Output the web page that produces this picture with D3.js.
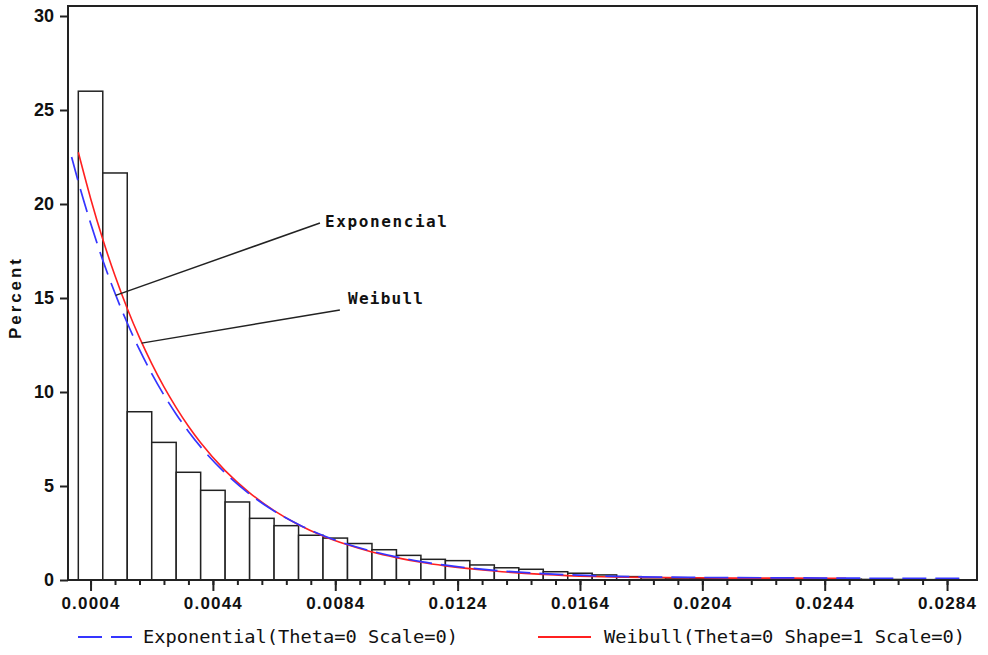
<!DOCTYPE html>
<html>
<head>
<meta charset="utf-8">
<script src="https://cdn.jsdelivr.net/npm/d3@7"></script>
<style>
  body { margin: 0; background: #fff; }
  svg { display: block; }
</style>
</head>
<body>
<div id="chart"></div>
<script>
// histogram: bin width 0.0008, first bin starts at 0
const binWidth = 0.0008;
const binStarts = d3.range(36).map(i => +(i * binWidth).toFixed(4));
const binPercent = [26.0, 21.65, 8.95, 7.32, 5.73, 4.77, 4.15, 3.28, 2.89, 2.38,
                    2.23, 1.94, 1.61, 1.31, 1.10, 1.03, 0.80, 0.65, 0.57, 0.44,
                    0.36, 0.27, 0.18, 0.12, 0.10, 0.08, 0.07, 0.06, 0.05, 0.05,
                    0.04, 0.04, 0.03, 0.03, 0.02, 0.02];

// fitted curves
const expX = [-0.00022, 0, 0.0004, 0.0008, 0.0012, 0.0016, 0.002, 0.0024, 0.0028, 0.0032,
              0.0036, 0.004, 0.0048, 0.0056, 0.0064, 0.0072, 0.008, 0.0088, 0.0096,
              0.0104, 0.0112, 0.012, 0.0136, 0.0152, 0.0168, 0.0184, 0.02, 0.0224,
              0.0248, 0.0272, 0.0288];
const expY = [22.5, 21.18, 18.99, 17.01, 15.25, 13.67, 12.25, 10.98, 9.84, 8.82,
              7.90, 7.08, 5.69, 4.57, 3.67, 2.95, 2.37, 1.90, 1.53,
              1.23, 0.98, 0.79, 0.51, 0.34, 0.23, 0.17, 0.14, 0.12,
              0.10, 0.09, 0.09];
const weibX = [0, 0.0004, 0.0008, 0.0012, 0.0016, 0.002, 0.0024, 0.0028, 0.0032, 0.0036,
               0.004, 0.0048, 0.0056, 0.0064, 0.0072, 0.008, 0.0088, 0.0096, 0.0104,
               0.0112, 0.012, 0.0136, 0.0152, 0.0168, 0.0184, 0.02, 0.0216, 0.0232, 0.0251];
const weibY = [22.75, 20.31, 18.12, 16.18, 14.44, 12.89, 11.51, 10.27, 9.17, 8.18,
               7.30, 5.82, 4.64, 3.69, 2.94, 2.34, 1.87, 1.49, 1.19,
               0.94, 0.75, 0.48, 0.30, 0.19, 0.14, 0.12, 0.10, 0.10, 0.09];

const xTickLabels = ["0.0004", "0.0044", "0.0084", "0.0124", "0.0164", "0.0204", "0.0244", "0.0284"];
const yTickLabels = ["0", "5", "10", "15", "20", "25", "30"];
const legendLabels = ["Exponential(Theta=0 Scale=0)", "Weibull(Theta=0 Shape=1 Scale=0)"];
const noteLabels = ["Exponencial", "Weibull"];

const width = 988, height = 655;
const frame = { left: 68, right: 977, top: 6, bottom: 580 };

const svg = d3.select("#chart").append("svg")
    .attr("width", width)
    .attr("height", height);

const x = d3.scaleLinear().domain([-0.000337, 0.029379]).range([frame.left, frame.right]);
const y = d3.scaleLinear().domain([0, 30]).range([frame.bottom, 16]);

// bars
svg.append("g").selectAll("rect")
    .data(binStarts.map((s, i) => ({ s, v: binPercent[i] })))
    .join("rect")
    .attr("x", d => x(d.s))
    .attr("y", d => y(d.v))
    .attr("width", d => x(d.s + binWidth) - x(d.s))
    .attr("height", d => y(0) - y(d.v))
    .attr("fill", "#fff")
    .attr("stroke", "#222")
    .attr("stroke-width", 1.5);

// curves
const line = d3.line()
    .x(d => x(d[0]))
    .y(d => y(d[1]))
    .curve(d3.curveMonotoneX);

svg.append("path")
    .datum(weibX.map((v, i) => [v, weibY[i]]))
    .attr("d", line)
    .attr("fill", "none")
    .attr("stroke", "#ff2020")
    .attr("stroke-width", 1.6);

svg.append("path")
    .datum(expX.map((v, i) => [v, expY[i]]))
    .attr("d", line)
    .attr("fill", "none")
    .attr("stroke", "#3535ff")
    .attr("stroke-width", 1.7)
    .attr("stroke-dasharray", "24,9");

// frame
svg.append("rect")
    .attr("x", frame.left).attr("y", frame.top)
    .attr("width", frame.right - frame.left).attr("height", frame.bottom - frame.top)
    .attr("fill", "none")
    .attr("stroke", "#222")
    .attr("stroke-width", 2);

// y axis
const yAxis = svg.append("g")
    .attr("transform", `translate(${frame.left},0)`)
    .call(d3.axisLeft(y).tickValues(yTickLabels.map(Number)).tickSize(8).tickPadding(6));
yAxis.select(".domain").remove();
yAxis.selectAll(".tick line").attr("stroke", "#222").attr("stroke-width", 2);
yAxis.selectAll(".tick text")
    .attr("fill", "#111")
    .style("font-family", "'Liberation Sans', Arial, sans-serif")
    .style("font-size", "18px")
    .style("font-weight", "bold");

// x axis: minor ticks every bin center, labels every 0.004
const minorTicks = binStarts.map(s => s + binWidth / 2);
const xMinor = svg.append("g")
    .attr("transform", `translate(0,${frame.bottom})`)
    .call(d3.axisBottom(x).tickValues(minorTicks).tickSize(5).tickFormat(""));
xMinor.select(".domain").remove();
xMinor.selectAll(".tick line").attr("stroke", "#222").attr("stroke-width", 2);

const xAxis = svg.append("g")
    .attr("transform", `translate(0,${frame.bottom})`)
    .call(d3.axisBottom(x).tickValues(xTickLabels.map(Number)).tickSize(11).tickPadding(6)
        .tickFormat((d, i) => xTickLabels[i]));
xAxis.select(".domain").remove();
xAxis.selectAll(".tick line").attr("stroke", "#222").attr("stroke-width", 2);
xAxis.selectAll(".tick text")
    .attr("fill", "#111")
    .style("font-family", "'Liberation Sans', Arial, sans-serif")
    .style("font-size", "17px")
    .style("font-weight", "bold")
    .style("letter-spacing", "1.2px");

// y label
svg.append("text")
    .attr("transform", "translate(21,299) rotate(-90)")
    .attr("text-anchor", "middle")
    .attr("textLength", 80)
    .attr("lengthAdjust", "spacing")
    .style("font-family", "'Liberation Sans', Arial, sans-serif")
    .style("font-size", "17px")
    .style("font-weight", "bold")
    .attr("fill", "#111")
    .text("Percent");

// annotations
const notes = [
    { label: noteLabels[0], from: [0.00122, 15.14], to: [0.00790, 18.99], tx: 325, ty: 227, len: 122 },
    { label: noteLabels[1], from: [0.00207, 12.6], to: [0.00855, 14.36], tx: 348, ty: 304, len: 75 }
];
notes.forEach(n => {
    svg.append("line")
        .attr("x1", x(n.from[0])).attr("y1", y(n.from[1]))
        .attr("x2", x(n.to[0])).attr("y2", y(n.to[1]))
        .attr("stroke", "#222")
        .attr("stroke-width", 1.5);
    svg.append("text")
        .attr("x", n.tx).attr("y", n.ty)
        .attr("textLength", n.len)
        .attr("lengthAdjust", "spacing")
        .style("font-family", "'DejaVu Sans Mono', monospace")
        .style("font-size", "16px")
        .style("font-weight", "bold")
        .attr("fill", "#111")
        .text(n.label);
});

// legend
const legend = [
    { label: legendLabels[0], color: "#3535ff", dash: "24,9", x1: 78, x2: 132, tx: 143, len: 315 },
    { label: legendLabels[1], color: "#ff2020", dash: null, x1: 538, x2: 591, tx: 604, len: 361 }
];
legend.forEach(l => {
    svg.append("line")
        .attr("x1", l.x1).attr("x2", l.x2)
        .attr("y1", 637).attr("y2", 637)
        .attr("stroke", l.color)
        .attr("stroke-width", 1.8)
        .attr("stroke-dasharray", l.dash);
    svg.append("text")
        .attr("x", l.tx).attr("y", 643)
        .attr("textLength", l.len)
        .attr("lengthAdjust", "spacingAndGlyphs")
        .style("font-family", "'DejaVu Sans Mono', monospace")
        .style("font-size", "17px")
        .attr("fill", "#111")
        .text(l.label);
});
</script>
</body>
</html>
